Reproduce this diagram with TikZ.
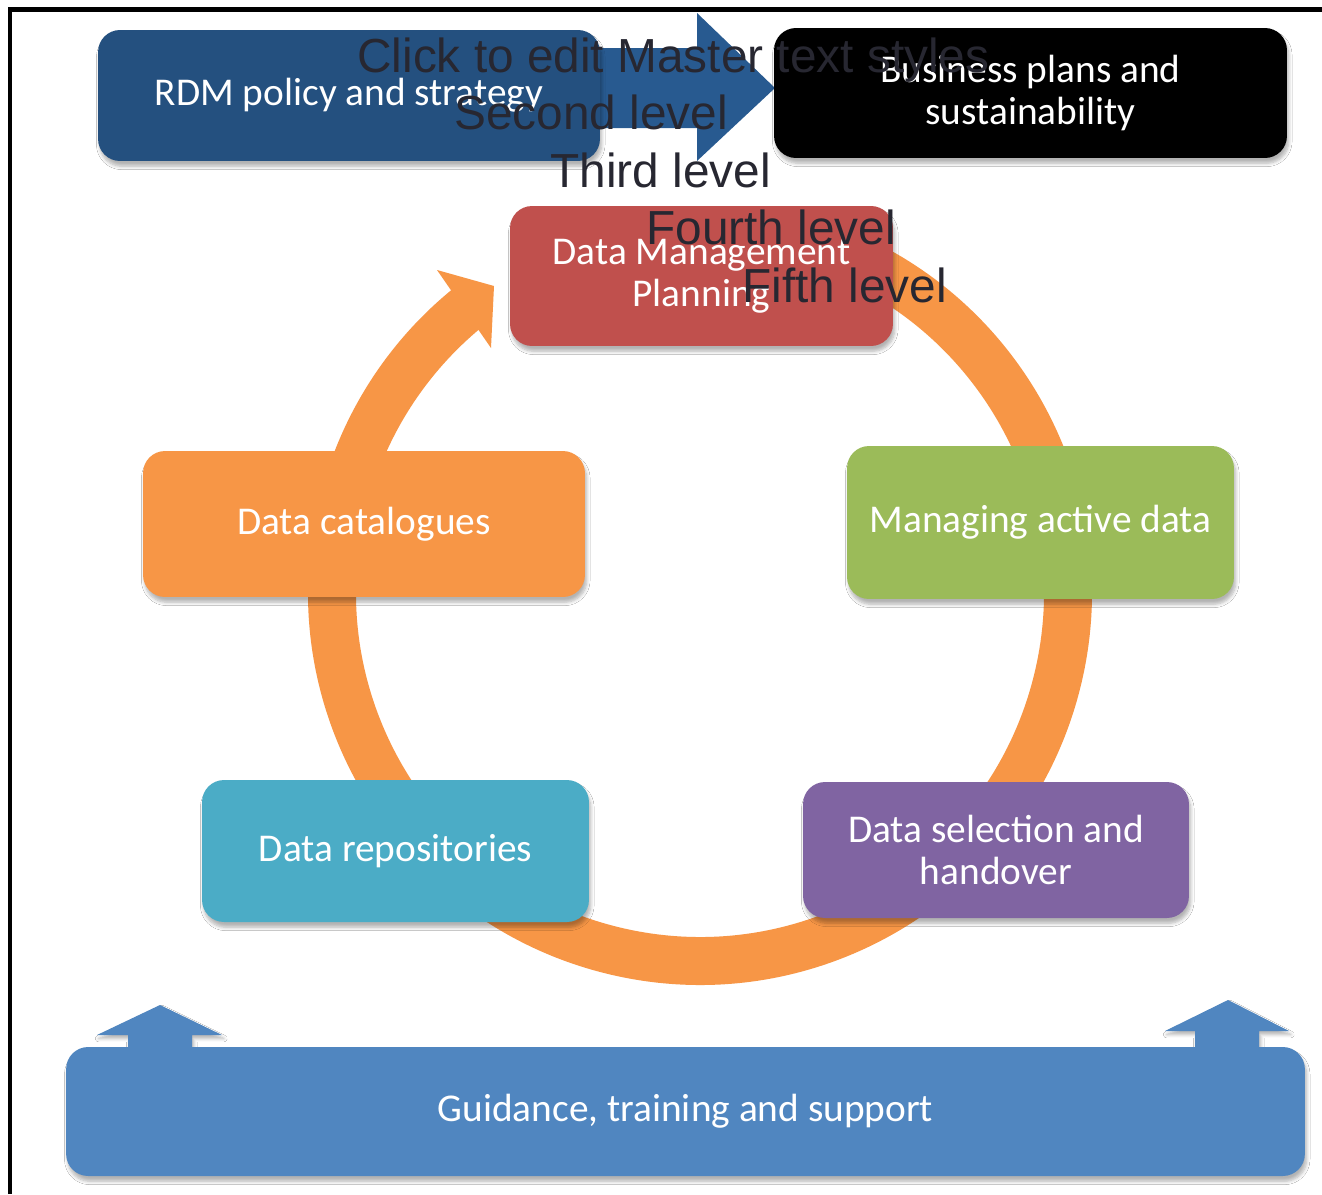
\documentclass[tikz,border=0pt]{standalone}
\usepackage{fontspec}
\setmainfont{Carlito}
\newfontfamily\masterfont{Liberation Sans}
\usetikzlibrary{shadows.blur}
\definecolor{rdmblue}{HTML}{24507F}
\definecolor{arrowblue}{HTML}{285A90}
\definecolor{dmpred}{HTML}{C0504D}
\definecolor{ringorange}{HTML}{F79646}
\definecolor{mangreen}{HTML}{9BBB59}
\definecolor{repcyan}{HTML}{4BACC6}
\definecolor{selpurple}{HTML}{8064A2}
\definecolor{guiblue}{HTML}{5086C0}
\definecolor{mastergray}{HTML}{272731}
\begin{document}
\begin{tikzpicture}[x=0.02cm,y=-0.02cm,
  box/.style={rounded corners=0.44cm, inner sep=0pt, align=center, text=white,
    font=\fontsize{22.4}{23.8}\selectfont,
    blur shadow={shadow xshift=1pt, shadow yshift=-3pt, shadow blur steps=6, shadow opacity=30}},
  master/.style={anchor=base west, inner sep=0pt, text=mastergray,
    font=\masterfont\fontsize{27.2}{32}\selectfont},
  blockarrow/.style={blur shadow={shadow xshift=1pt, shadow yshift=-2pt, shadow blur steps=5, shadow opacity=30}}
]
\useasboundingbox (0,0) rectangle (1322,1194);
\fill[white] (0,0) rectangle (1322,1194);
% frame
\draw[line width=0.1cm] (10,1194) -- (10,9.5) -- (1322,9.5);

% orange cycle ring
\coordinate (ctr) at (700,593);
\draw[ringorange, line width=0.96cm] (ctr) ++(75:7.36cm) arc[start angle=75, end angle=-232, radius=7.36cm];
\fill[ringorange] (437,270) -- (494,286) -- (491,348) -- cycle;

% top block arrow
\fill[arrowblue] (585,48) -- (697,48) -- (697,13) -- (775,88) -- (697,161) -- (697,128) -- (585,128) -- cycle;

% bottom block arrows
\fill[guiblue, blockarrow] (128,1060) -- (128,1035) -- (97,1035) -- (160,1005) -- (222,1035) -- (192,1035) -- (192,1060) -- cycle;
\fill[guiblue, blockarrow] (1195,1060) -- (1195,1031) -- (1165,1031) -- (1228,1000) -- (1289,1031) -- (1259,1031) -- (1259,1060) -- cycle;

% boxes
\node[box, fill=rdmblue, minimum width=10.04cm, minimum height=2.62cm] (rdm) at (349,95.5) {RDM policy and strategy};
\node[box, fill=black, minimum width=10.26cm, minimum height=2.60cm] (biz) at (1030.5,93) {Business plans and\\sustainability};
\node[box, fill=dmpred, minimum width=7.66cm, minimum height=2.80cm] (dmp) at (701.5,276) {Data Management\\Planning};
\node[box, fill=ringorange, minimum width=8.84cm, minimum height=2.92cm] (cat) at (364,524) {Data catalogues};
\node[box, fill=mangreen, minimum width=7.74cm, minimum height=3.06cm] (man) at (1040.5,522.5) {Managing active data};
\node[box, fill=repcyan, minimum width=7.74cm, minimum height=2.84cm] (rep) at (395.5,851) {Data repositories};
\node[box, fill=selpurple, minimum width=7.72cm, minimum height=2.72cm] (sel) at (996,850) {Data selection and\\handover};
\node[box, fill=guiblue, minimum width=24.78cm, minimum height=2.58cm] (gui) at (685.5,1111.5) {Guidance, training and support};

% master text overlay
\node[master] (m1) at (357,72) {Click to edit Master text styles};
\node[master] (m2) at (454,129.5) {Second level};
\node[master] (m3) at (550,187) {Third level};
\node[master] (m4) at (646,244.5) {Fourth level};
\node[master] (m5) at (742,302) {Fifth level};
\end{tikzpicture}
\end{document}
